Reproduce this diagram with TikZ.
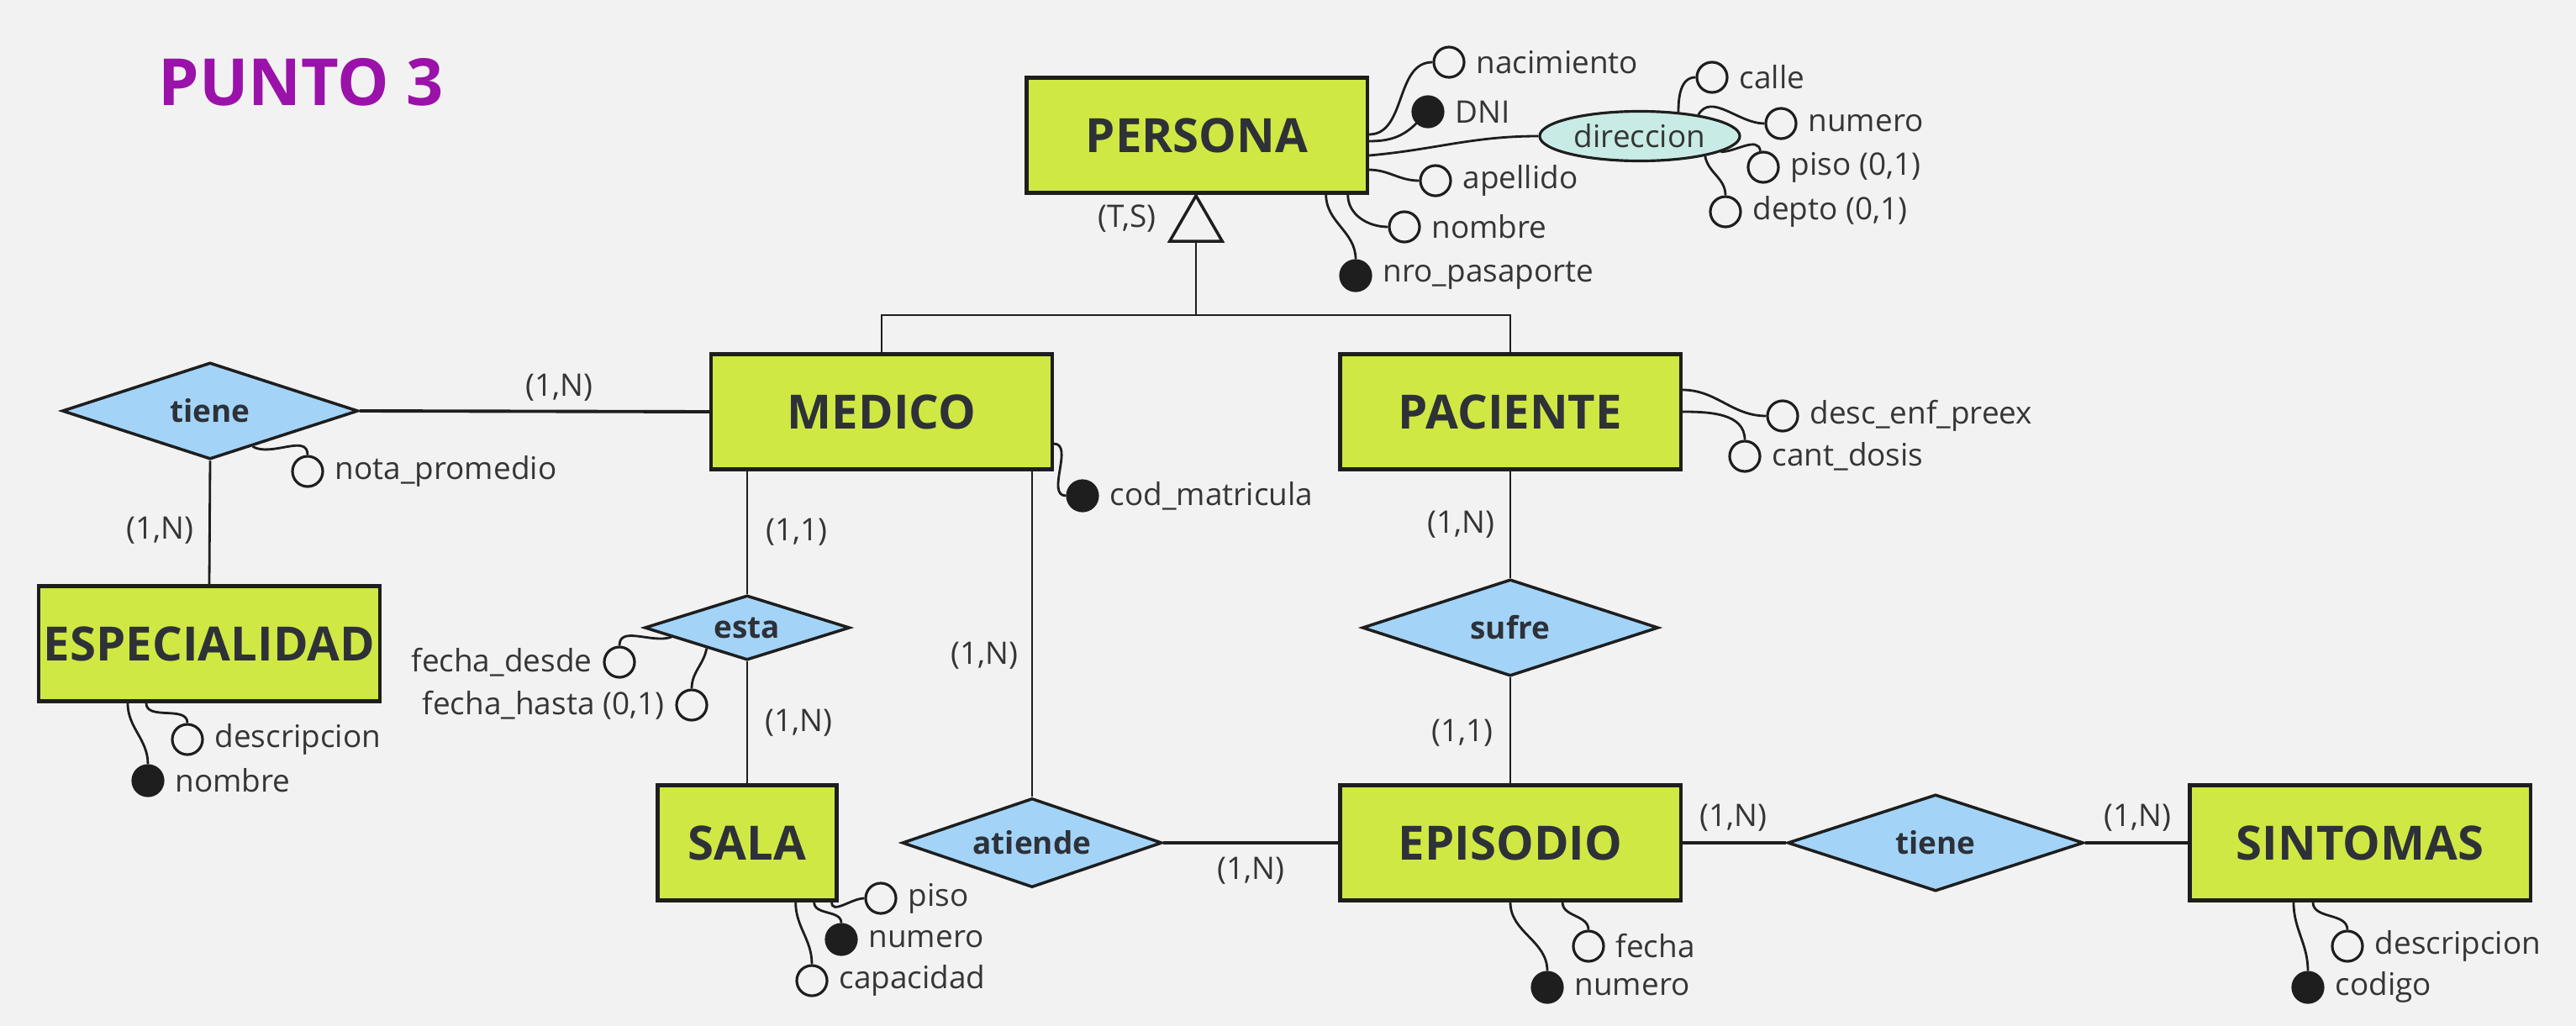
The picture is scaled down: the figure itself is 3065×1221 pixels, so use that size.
\documentclass[tikz,border=0pt]{standalone}
\usepackage{fontspec}
\setmainfont{Open Sans}
\usetikzlibrary{shapes.geometric,positioning,calc}
\definecolor{fondo}{HTML}{F2F2F2}
\definecolor{verdeEnt}{HTML}{D0E844}
\definecolor{celeste}{HTML}{A3D4F8}
\definecolor{aguaDir}{HTML}{C8EBE6}
\definecolor{morado}{HTML}{9A12A9}
\definecolor{borde}{HTML}{1E1E1E}
\definecolor{texto}{HTML}{353535}
\definecolor{textoEnt}{HTML}{2E3138}
\tikzset{every picture/.style={line width=0.75pt}}
\tikzset{
  entidad/.style={draw=borde, line width=1.2pt, fill=verdeEnt, minimum width=4.05cm, minimum height=1.37cm,
    inner xsep=1pt, font=\fontsize{16}{19}\selectfont\bfseries, text=textoEnt},
  relacion/.style={diamond, aspect=3, draw=borde, line width=1pt, fill=celeste, inner sep=0pt,
    font=\fontsize{10.5}{12}\selectfont\bfseries, text=textoEnt},
  atrib/.style={circle, draw=borde, line width=0.9pt, fill=fondo, minimum size=0.36cm, inner sep=0pt},
  clave/.style={atrib, fill=borde},
  card/.style={font=\fontsize{10.5}{12}\selectfont, text=texto},
  every label/.style={font=\fontsize{10.5}{12}\selectfont, text=texto},
  rama/.style={draw=borde, line width=0.8pt},
}

\begin{document}
\begin{tikzpicture}[x=0.01cm, y=-0.01cm]
    % 背景
    \fill[fondo] (0,0) rectangle (3065,1221);
    \useasboundingbox (0,0) rectangle (3065,1221);
    \node[font=\fontsize{22}{26}\selectfont\bfseries, text=morado] (titulo) at (358,98) {PUNTO 3};

    % 实体
    \node[entidad] (persona) at (1424,161) {PERSONA};
    \node[entidad] (medico) at (1049,490) {MEDICO};
    \node[entidad] (paciente) at (1797,490) {PACIENTE};
    \node[entidad] (especialidad) at (249,766) {ESPECIALIDAD};
    \node[entidad, minimum width=2.13cm] (sala) at (889,1003) {SALA};
    \node[entidad] (episodio) at (1797,1003) {EPISODIO};
    \node[entidad] (sintomas) at (2808,1003) {SINTOMAS};

    % 关系
    \node[relacion, minimum width=3.52cm, minimum height=1.15cm] (tieneEsp) at (250,489) {tiene};
    \node[relacion, minimum width=2.44cm, minimum height=0.77cm] (esta) at (889,747) {esta};
    \node[relacion, minimum width=3.09cm, minimum height=1.06cm] (atiende) at (1228,1003) {atiende};
    \node[relacion, minimum width=3.52cm, minimum height=1.15cm] (sufre) at (1797,747) {sufre};
    \node[relacion, minimum width=3.52cm, minimum height=1.15cm] (tieneSin) at (2303,1003) {tiene};

    % 继承
    \node[regular polygon, regular polygon sides=3, draw=borde, line width=1pt, fill=fondo,
      minimum size=0.72cm, inner sep=0pt] (isa) at (1423,269) {};
    \coordinate (union) at (1423,375);
    \node[card] (ts) at (1341,260) {(T,S)};
    \draw[rama] (isa.south) -- (union);
    \draw[rama] (medico.north) |- (union) -| (paciente.north);

    % 连线与基数
    \draw[borde, line width=1.1pt] (tieneEsp.east) -- (medico.west);
    \node[card] (c1) at (665,461) {(1,N)};
    \draw[rama] (tieneEsp.south) -- (especialidad.north);
    \node[card] (c2) at (190,631) {(1,N)};
    \draw[rama] (esta.north) -- (esta.north |- medico.south);
    \node[card] (c3) at (948,633) {(1,1)};
    \draw[rama] (esta.south) -- (sala.north);
    \node[card] (c4) at (950,860) {(1,N)};
    \draw[rama] (atiende.north) -- (atiende.north |- medico.south);
    \node[card] (c5) at (1171,780) {(1,N)};
    \draw[borde, line width=1.1pt] (atiende.east) -- (episodio.west);
    \node[card] (c6) at (1488,1036) {(1,N)};
    \draw[rama] (paciente.south) -- (sufre.north);
    \node[card] (c7) at (1738,624) {(1,N)};
    \draw[rama] (sufre.south) -- (episodio.north);
    \node[card] (c8) at (1740,872) {(1,1)};
    \draw[borde, line width=1.1pt] (episodio.east) -- (tieneSin.west);
    \node[card] (c9) at (2062,973) {(1,N)};
    \draw[borde, line width=1.1pt] (tieneSin.east) -- (sintomas.west);
    \node[card] (c10) at (2543,973) {(1,N)};

    % PERSONA 的属性
    \node[atrib, label=right:nacimiento] (nacimiento) at (1724,74) {};
    \node[clave, label=right:DNI] (dni) at (1699,133) {};
    \node[atrib, label=right:apellido] (apellido) at (1708,215) {};
    \node[atrib, label=right:nombre] (nombreP) at (1671,270) {};
    \node[clave, label=right:nro\_pasaporte] (pasaporte) at (1613,328) {};
    \node[ellipse, draw=borde, line width=0.9pt, fill=aguaDir, minimum width=2.38cm, minimum height=0.59cm,
      inner sep=0pt, font=\fontsize{10.5}{12}\selectfont, text=texto] (dir) at (1951,162) {direccion};
    \node[atrib, label=right:calle] (calle) at (2037,92) {};
    \node[atrib, label=right:numero] (numeroD) at (2119,147) {};
    \node[atrib, label=right:{piso (0,1)}] (pisoD) at (2098,199) {};
    \node[atrib, label=right:{depto (0,1)}] (depto) at (2053,252) {};
    \draw[rama] ([yshift=0.01cm]persona.east) to[out=0,in=180] (nacimiento.west);
    \draw[rama] ([yshift=-0.07cm]persona.east) to[out=0,in=-135] (dni);
    \draw[rama] ([yshift=-0.24cm]persona.east) to[out=5,in=180] (dir.west);
    \draw[rama] ([yshift=-0.41cm]persona.east) to[out=0,in=180] (apellido.west);
    \draw[rama] ([xshift=-0.25cm]persona.south east) to[out=-90,in=180] (nombreP.west);
    \draw[rama] ([xshift=-0.51cm]persona.south east) to[out=-90,in=90] (pasaporte.north);
    \draw[rama] (dir.32) to[out=90,in=180] (calle.west);
    \draw[rama] (dir.20) to[out=60,in=180] (numeroD.west);
    \draw[rama] (dir.-11) to[out=0,in=100] (pisoD);
    \draw[rama] (dir.-17) to[out=-80,in=90] (depto.north);

    % 其他属性
    \node[atrib, label=right:nota\_promedio] (nota) at (366,561) {};
    \draw[rama] (tieneEsp.-40) to[out=-30,in=90] (nota.north);
    \node[atrib, label=right:descripcion] (descE) at (223,880) {};
    \node[clave, label=right:nombre] (nombreE) at (176,929) {};
    \draw[rama] ([xshift=-0.75cm]especialidad.south) to[out=-90,in=90] (descE.north);
    \draw[rama] ([xshift=-0.97cm]especialidad.south) to[out=-90,in=90] (nombreE.north);
    \node[atrib, label=left:fecha\_desde] (desde) at (737,788) {};
    \node[atrib, label=left:{fecha\_hasta (0,1)}] (hasta) at (823,839) {};
    \draw[rama] (esta.187) to[out=-160,in=90] (desde.north);
    \draw[rama] (esta.207) to[out=-100,in=90] (hasta.north);
    \node[atrib, label=right:piso] (pisoS) at (1048,1069) {};
    \node[clave, label=right:numero] (numeroS) at (1001,1118) {};
    \node[atrib, label=right:capacidad] (capacidad) at (966,1167) {};
    \draw[rama] ([xshift=-0.08cm]sala.south east) to[out=-90,in=180] (pisoS.west);
    \draw[rama] ([xshift=-0.29cm]sala.south east) to[out=-90,in=90] (numeroS.north);
    \draw[rama] ([xshift=-0.51cm]sala.south east) to[out=-90,in=90] (capacidad.north);
    \node[clave, label=right:cod\_matricula] (matricula) at (1288,590) {};
    \draw[rama] ([yshift=-0.38cm]medico.east) to[out=0,in=180] (matricula.west);
    \node[atrib, label=right:desc\_enf\_preex] (descPac) at (2121,495) {};
    \node[atrib, label=right:cant\_dosis] (dosis) at (2076,543) {};
    \draw[rama] ([yshift=0.26cm]paciente.east) to[out=0,in=180] (descPac.west);
    \draw[rama] (paciente.east) to[out=0,in=90] (dosis.north);
    \node[atrib, label=right:fecha] (fecha) at (1890,1126) {};
    \node[clave, label=right:numero] (numeroEp) at (1841,1175) {};
    \draw[rama] ([xshift=0.62cm]episodio.south) to[out=-90,in=90] (fecha.north);
    \draw[rama] (episodio.south) to[out=-90,in=90] (numeroEp.north);
    \node[atrib, label=right:descripcion] (descS) at (2793,1126) {};
    \node[clave, label=right:codigo] (codigo) at (2746,1175) {};
    \draw[rama] ([xshift=-0.56cm]sintomas.south) to[out=-90,in=90] (descS.north);
    \draw[rama] ([xshift=-0.79cm]sintomas.south) to[out=-90,in=90] (codigo.north);
\end{tikzpicture}
\end{document}
